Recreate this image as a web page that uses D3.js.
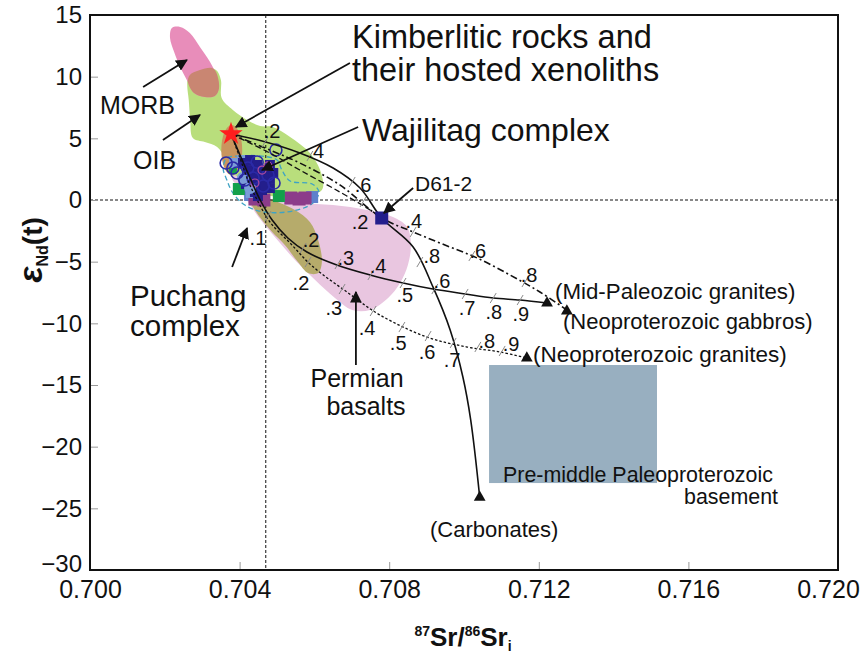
<!DOCTYPE html>
<html>
<head>
<meta charset="utf-8">
<script src="https://cdn.jsdelivr.net/npm/d3@7"></script>
<style>
  body { margin: 0; background: #fff; }
  text { font-family: "Liberation Sans", Arial, sans-serif; fill: #111; }
</style>
</head>
<body>
<div id="chart"></div>
<script>
// Sr-Nd isotope diagram with mixing curves

// ---- data (Sr87/86 initial, eNd(t)) ----
const xTicks = [0.700, 0.704, 0.708, 0.712, 0.716, 0.720];
const yTicks = [15, 10, 5, 0, -5, -10, -15, -20, -25, -30];
const srReference = 0.7047;
const ndReference = 0;

const morbField = [[0.70219,13.95],[0.70241,14.03],[0.70267,13.54],[0.70294,12.41],[0.70321,11.19],[0.70340,9.97],[0.70345,9.08],[0.70334,8.43],[0.70307,8.35],[0.70278,8.68],[0.70259,9.73],[0.70241,10.78],[0.70225,12.0],[0.70214,13.14]];
const oibField = [[0.70264,10.38],[0.70307,10.70],[0.70337,10.54],[0.70350,9.73],[0.70352,8.27],[0.70382,7.30],[0.70420,6.49],[0.70455,6.0],[0.70489,5.92],[0.70535,5.11],[0.70588,3.81],[0.70618,2.19],[0.70620,0.81],[0.70561,0.41],[0.70481,0.32],[0.70414,0.65],[0.70380,2.03],[0.70361,3.41],[0.70340,4.30],[0.70307,4.70],[0.70275,5.03],[0.70268,6.49],[0.70264,8.11],[0.70260,9.32]];
const morbOibOverlap = [[0.70267,10.14],[0.70294,10.54],[0.70326,10.70],[0.70337,10.38],[0.70345,9.08],[0.70334,8.43],[0.70307,8.35],[0.70278,8.68],[0.70262,9.57]];
const permianField = [[0.70388,2.03],[0.70414,0.97],[0.70481,0.0],[0.70561,-0.24],[0.70650,-0.41],[0.70741,-0.81],[0.70810,-1.38],[0.70848,-2.19],[0.70858,-3.65],[0.70850,-5.27],[0.70829,-6.73],[0.70797,-7.95],[0.70749,-8.92],[0.70701,-8.92],[0.70655,-7.95],[0.70602,-6.49],[0.70553,-5.03],[0.70508,-3.49],[0.70463,-1.87],[0.70428,-0.41],[0.70401,0.81],[0.70380,1.78]];
const permianOibOverlap = [[0.70428,0.0],[0.70460,0.24],[0.70508,-0.24],[0.70548,-0.81],[0.70588,-1.78],[0.70610,-3.24],[0.70620,-5.03],[0.70610,-5.92],[0.70583,-5.92],[0.70556,-5.03],[0.70521,-3.65],[0.70487,-2.59],[0.70460,-1.62],[0.70441,-0.81]];
const kimberliteField = { sr: 0.70379, nd: 4.05, dSr: 0.00028, dNd: 2.03 };
const puchangOutline = [[0.70366,3.41],[0.70356,2.59],[0.70366,1.62],[0.70382,0.57],[0.70414,-0.41],[0.70463,-0.97],[0.70543,-0.89],[0.70596,-0.24],[0.70612,0.65],[0.70594,1.30],[0.70535,1.54],[0.70513,2.43],[0.70500,3.24],[0.70455,3.57],[0.70401,3.57]];
const basementBox = { sr: [0.71067, 0.71516], nd: [-13.38, -22.95] };

const kimberliteStar = [0.70377, 5.35];
const carbonatesCurve = [[0.70377,5.35],[0.70460,4.78],[0.70561,3.81],[0.70650,2.59],[0.70722,0.97],[0.70780,-1.46],[0.70864,-3.81],[0.70917,-7.05],[0.70963,-10.54],[0.70997,-14.35],[0.71018,-17.84],[0.71042,-24.1]];
const gabbroCurve = [[0.70377,5.35],[0.70481,4.05],[0.70561,3.0],[0.70668,1.22],[0.70780,-1.46],[0.70864,-2.59],[0.70949,-3.65],[0.71035,-4.70],[0.71123,-6.08],[0.71203,-7.46],[0.71275,-8.92]];
const d61Curve = [[0.70377,5.35],[0.70481,3.81],[0.70561,2.43],[0.70668,0.65],[0.70749,-0.81],[0.70780,-1.46]];
const midPaleozoicCurve = [[0.70377,5.35],[0.70401,3.65],[0.70428,1.78],[0.70455,0.0],[0.70487,-1.62],[0.70529,-3.08],[0.70580,-4.22],[0.70660,-5.27],[0.70749,-6.08],[0.70837,-6.73],[0.70917,-7.22],[0.71003,-7.62],[0.71078,-7.95],[0.71150,-8.11],[0.71222,-8.35]];
const graniteCurve = [[0.70377,5.35],[0.70401,3.41],[0.70422,1.62],[0.70447,0.0],[0.70481,-1.78],[0.70535,-3.49],[0.70594,-5.35],[0.70687,-7.46],[0.70775,-9.32],[0.70901,-11.11],[0.71008,-11.92],[0.71096,-12.32],[0.71168,-12.81]];
const endMembers = [[0.71222,-8.35],[0.71275,-9.0],[0.71168,-12.81],[0.71042,-24.1]];

const curveTicks = [[0.70468,4.70],[0.70588,3.57],[0.70701,1.46],[0.70882,-5.03],
  [0.70730,-0.16],[0.70864,-2.59],[0.71021,-4.54],[0.71163,-6.65],
  [0.70476,-1.30],[0.70570,-3.89],[0.70663,-5.19],[0.70751,-6.08],[0.70837,-6.73],[0.70922,-7.22],[0.71003,-7.62],[0.71078,-7.95],[0.71150,-8.11],
  [0.70583,-5.03],[0.70674,-7.22],[0.70757,-9.0],[0.70834,-10.30],[0.70904,-11.03],[0.70971,-11.59],[0.71037,-11.92],[0.71102,-12.24]];
const tickLabels = [['.2',0.70487,5.59],['.4',0.70604,3.97],['.6',0.70730,1.22],['.8',0.70914,-4.54],
  ['.2',0.70722,-1.78],['.4',0.70866,-1.70],['.6',0.71037,-4.14],['.8',0.71174,-6.08],
  ['.1',0.70449,-3.08],['.2',0.70591,-3.24],['.3',0.70684,-4.70],['.4',0.70770,-5.35],['.5',0.70842,-7.70],['.6',0.70941,-6.57],['.7',0.71008,-8.76],['.8',0.71080,-9.08],['.9',0.71152,-9.24],
  ['.2',0.70564,-6.73],['.3',0.70652,-8.76],['.4',0.70741,-10.38],['.5',0.70824,-11.59],['.6',0.70901,-12.32],['.7',0.70968,-12.97],['.8',0.71061,-11.43],['.9',0.71126,-11.68]];

const navySquares = [[0.70409,3.0],[0.70428,3.24],[0.70447,2.84],[0.70468,2.43],[0.70481,2.84],[0.70422,2.27],[0.70444,1.95],[0.70463,1.62],[0.70481,1.78],[0.70417,1.30],[0.70439,1.14],[0.70460,0.81],[0.70481,0.97],[0.70449,0.32],[0.70433,2.43],[0.70452,2.27],[0.70470,1.14],[0.70428,1.70],[0.70490,2.19],[0.70441,0.65]];
const d61Sample = [0.70780, -1.46];
const greenSquares = [[0.70398,0.89],[0.70505,0.32]];
const smallGreenSquares = [[0.70382,2.43]];
const purpleSquares = [[0.70441,0.08],[0.70465,0.0],[0.70537,0.16],[0.70559,0.08],[0.70575,0.16]];
const blueSquares = [[0.70594,0.24],[0.70428,0.41]];
const lightBlueSquares = [[0.70385,3.0],[0.70406,3.24],[0.70430,0.57]];
const lightBlueCircles = [[0.70428,0.97],[0.70409,1.78]];
const openCircles = [[0.70364,3.0],[0.70382,2.59],[0.70393,2.19],[0.70422,2.59],[0.70447,3.08],[0.70476,2.03],[0.70492,1.38],[0.70497,4.05],[0.70463,1.14],[0.70414,1.62],[0.70436,1.78]];
const magentaCircles = [[0.70460,2.43],[0.70476,2.76],[0.70441,1.38]];

// annotation arrows: [tail, tip]
const arrows = [
  [[0.70142,9.16],[0.70259,11.35]],
  [[0.70195,4.86],[0.70294,6.89]],
  [[0.70695,11.11],[0.70390,5.92]],
  [[0.70717,5.92],[0.70460,2.43]],
  [[0.70864,0.97],[0.70786,-1.05]],
  [[0.70380,-5.43],[0.70420,-2.27]],
  [[0.70711,-13.38],[0.70711,-7.46]]
];

// ---- layout ----
const svgWidth = 860, svgHeight = 656;
const margin = { top: 15, right: 22, bottom: 86, left: 90 };
const width = svgWidth - margin.left - margin.right;
const height = svgHeight - margin.top - margin.bottom;

const svg = d3.select('#chart').append('svg')
  .attr('width', svgWidth)
  .attr('height', svgHeight);

svg.append('defs').append('marker')
  .attr('id', 'arr')
  .attr('viewBox', '0 0 10 10')
  .attr('refX', 9).attr('refY', 5)
  .attr('markerWidth', 6.5).attr('markerHeight', 6.5)
  .attr('orient', 'auto')
  .append('path').attr('d', 'M0,0 L10,5 L0,10 z').attr('fill', '#111');

svg.select('defs').append('clipPath').attr('id', 'plotclip')
  .append('rect').attr('width', width).attr('height', height);

const chartGroup = svg.append('g')
  .attr('transform', `translate(${margin.left}, ${margin.top})`);

const x = d3.scaleLinear().domain([0.700, 0.720]).range([0, width]);
const y = d3.scaleLinear().domain([-30, 15]).range([height, 0]);

const closedShape = d3.line().x(d => x(d[0])).y(d => y(d[1])).curve(d3.curveCatmullRomClosed.alpha(0.5));
const openCurve = d3.line().x(d => x(d[0])).y(d => y(d[1])).curve(d3.curveCatmullRom.alpha(0.5));

const plot = chartGroup.append('g').attr('clip-path', 'url(#plotclip)');

// fields
plot.append('path').datum(oibField).attr('d', closedShape).attr('fill', '#b9de7c');
plot.append('path').datum(permianField).attr('d', closedShape).attr('fill', '#e9c6e0');
plot.append('path').datum(permianOibOverlap).attr('d', closedShape).attr('fill', '#b6ab6b');
plot.append('path').datum(morbField).attr('d', closedShape).attr('fill', '#e88dba');
plot.append('path').datum(morbOibOverlap).attr('d', closedShape).attr('fill', '#c98672');
plot.append('ellipse')
  .attr('cx', x(kimberliteField.sr)).attr('cy', y(kimberliteField.nd))
  .attr('rx', x(kimberliteField.sr + kimberliteField.dSr) - x(kimberliteField.sr))
  .attr('ry', y(kimberliteField.nd - kimberliteField.dNd) - y(kimberliteField.nd))
  .attr('fill', '#c9955e');

plot.append('rect')
  .attr('x', x(basementBox.sr[0])).attr('y', y(basementBox.nd[0]))
  .attr('width', x(basementBox.sr[1]) - x(basementBox.sr[0]))
  .attr('height', y(basementBox.nd[1]) - y(basementBox.nd[0]))
  .attr('fill', '#98afc0');

// reference lines
plot.append('line')
  .attr('x1', x(srReference)).attr('x2', x(srReference))
  .attr('y1', 0).attr('y2', height)
  .attr('stroke', '#111').attr('stroke-width', 1).attr('stroke-dasharray', '3,2');
plot.append('line')
  .attr('x1', 0).attr('x2', width)
  .attr('y1', y(ndReference)).attr('y2', y(ndReference))
  .attr('stroke', '#111').attr('stroke-width', 1).attr('stroke-dasharray', '3,2');

// Puchang complex outline
plot.append('path').datum(puchangOutline).attr('d', closedShape)
  .attr('fill', 'none').attr('stroke', '#3ea3c4').attr('stroke-width', 1.3).attr('stroke-dasharray', '5,3');

// points
function squares(data, size, color) {
  plot.selectAll(null).data(data).enter().append('rect')
    .attr('x', d => x(d[0]) - size / 2).attr('y', d => y(d[1]) - size / 2)
    .attr('width', size).attr('height', size).attr('fill', color);
}
squares(blueSquares, 12, '#5d80cc');
squares(purpleSquares, 13, '#8c3c8a');
squares(greenSquares, 12, '#13a04b');
squares(smallGreenSquares, 8, '#13a04b');
squares(lightBlueSquares, 10, '#7b9cd8');
squares(navySquares, 10, '#231e8c');

plot.selectAll(null).data(lightBlueCircles).enter().append('circle')
  .attr('cx', d => x(d[0])).attr('cy', d => y(d[1])).attr('r', 6)
  .attr('fill', '#7b9cd8');
plot.selectAll(null).data(openCircles).enter().append('circle')
  .attr('cx', d => x(d[0])).attr('cy', d => y(d[1])).attr('r', 6)
  .attr('fill', 'none').attr('stroke', '#2b2aa6').attr('stroke-width', 1.6);
plot.selectAll(null).data(magentaCircles).enter().append('circle')
  .attr('cx', d => x(d[0])).attr('cy', d => y(d[1])).attr('r', 4)
  .attr('fill', 'none').attr('stroke', '#b44d9d').attr('stroke-width', 1.2);

// mixing curves
const curveStyles = [
  [carbonatesCurve, null],
  [gabbroCurve, '7,3,2,3'],
  [d61Curve, '6,3'],
  [midPaleozoicCurve, null],
  [graniteCurve, '2.5,2']
];
curveStyles.forEach(([data, dash]) => {
  plot.append('path').datum(data).attr('d', openCurve)
    .attr('fill', 'none').attr('stroke', '#111')
    .attr('stroke-width', dash && dash.length < 6 ? 1.3 : 1.6)
    .attr('stroke-dasharray', dash);
});

plot.selectAll(null).data(curveTicks).enter().append('line')
  .attr('x1', d => x(d[0]) - 3).attr('y1', d => y(d[1]) + 5)
  .attr('x2', d => x(d[0]) + 3).attr('y2', d => y(d[1]) - 5)
  .attr('stroke', '#8a8a8a').attr('stroke-width', 1);

plot.selectAll(null).data(tickLabels).enter().append('text')
  .attr('x', d => x(d[1])).attr('y', d => y(d[2]))
  .attr('text-anchor', 'middle').attr('dy', '0.35em')
  .style('font-size', '20px')
  .text(d => d[0]);

plot.selectAll(null).data(endMembers).enter().append('path')
  .attr('transform', d => `translate(${x(d[0])},${y(d[1])})`)
  .attr('d', d3.symbol().type(d3.symbolTriangle).size(60))
  .attr('fill', '#111');

// D61-2 sample
plot.append('rect')
  .attr('x', x(d61Sample[0]) - 6.5).attr('y', y(d61Sample[1]) - 6.5)
  .attr('width', 13).attr('height', 13).attr('fill', '#231e8c');

// kimberlite star
plot.append('path')
  .attr('transform', `translate(${x(kimberliteStar[0])},${y(kimberliteStar[1])})`)
  .attr('d', d3.symbol().type(d3.symbolStar).size(170))
  .attr('fill', '#ff1e1e');

// annotation arrows
plot.selectAll(null).data(arrows).enter().append('line')
  .attr('x1', d => x(d[0][0])).attr('y1', d => y(d[0][1]))
  .attr('x2', d => x(d[1][0])).attr('y2', d => y(d[1][1]))
  .attr('stroke', '#111').attr('stroke-width', 1.8)
  .attr('marker-end', 'url(#arr)');

// axes
const bottomAxis = d3.axisBottom(x).tickValues(xTicks).tickFormat(d3.format('.3f'))
  .tickSizeInner(-8).tickSizeOuter(0).tickPadding(10);
const leftAxis = d3.axisLeft(y).tickValues(yTicks)
  .tickSizeInner(-8).tickSizeOuter(0).tickPadding(8);

const xAxis = chartGroup.append('g')
  .attr('transform', `translate(0, ${height})`)
  .call(bottomAxis);
const yAxis = chartGroup.append('g').call(leftAxis);
[xAxis, yAxis].forEach(a => {
  a.select('.domain').remove();
  a.selectAll('line').attr('stroke', '#999');
  a.selectAll('text').style('font-size', '25px').style('font-family', '"Liberation Sans", Arial, sans-serif').attr('fill', '#111');
});
yAxis.selectAll('text').style('font-size', '24px');
// keep the last x label inside the page
xAxis.selectAll('.tick text').filter(d => d === 0.720).attr('dx', -10);
yAxis.selectAll('.tick text').filter(d => d === -30).attr('dy', '0.05em');

chartGroup.append('rect')
  .attr('width', width).attr('height', height)
  .attr('fill', 'none').attr('stroke', '#111').attr('stroke-width', 2);

// text annotations
const notes = [
  ['Kimberlitic rocks and', 352, 48, 32.5, 'start'],
  ['their hosted xenoliths', 352, 81, 32.5, 'start'],
  ['Wajilitag complex', 362, 141, 32, 'start'],
  ['D61-2', 415, 191, 21, 'start'],
  ['MORB', 100, 114, 25, 'start'],
  ['OIB', 133, 169, 25, 'start'],
  ['Puchang', 130, 306, 29.5, 'start'],
  ['complex', 130, 336, 29.5, 'start'],
  ['Permian', 357, 387, 25, 'middle'],
  ['basalts', 366, 415, 25, 'middle'],
  ['(Mid-Paleozoic granites)', 555, 299, 22.3, 'start'],
  ['(Neoproterozoic gabbros)', 563, 329, 22, 'start'],
  ['(Neoproterozoic granites)', 533, 362, 22.5, 'start'],
  ['(Carbonates)', 430, 537, 22, 'start'],
  ['Pre-middle Paleoproterozoic', 503, 482, 21.4, 'start'],
  ['basement', 778, 504, 21.4, 'end']
];
svg.selectAll(null).data(notes).enter().append('text')
  .attr('x', d => d[1]).attr('y', d => d[2])
  .attr('text-anchor', d => d[4])
  .style('font-size', d => d[3] + 'px')
  .text(d => d[0]);

// axis titles
const xTitle = svg.append('text')
  .attr('x', 463).attr('y', 646)
  .attr('text-anchor', 'middle')
  .style('font-weight', 'bold').style('font-size', '26px');
xTitle.append('tspan').attr('dy', -10).style('font-size', '14px').text('87');
xTitle.append('tspan').attr('dy', 10).text('Sr/');
xTitle.append('tspan').attr('dy', -10).style('font-size', '14px').text('86');
xTitle.append('tspan').attr('dy', 10).text('Sr');
xTitle.append('tspan').attr('dy', 5).style('font-size', '14px').text('i');

const yTitle = svg.append('text')
  .attr('transform', 'translate(42, 250) rotate(-90)')
  .attr('text-anchor', 'middle')
  .style('font-weight', 'bold').style('font-size', '28px');
yTitle.append('tspan').style('font-style', 'italic').style('font-size', '34px').text('ε');
yTitle.append('tspan').attr('dy', 6).style('font-size', '16px').text('Nd');
yTitle.append('tspan').attr('dy', -6).text('(t)');
</script>
</body>
</html>
